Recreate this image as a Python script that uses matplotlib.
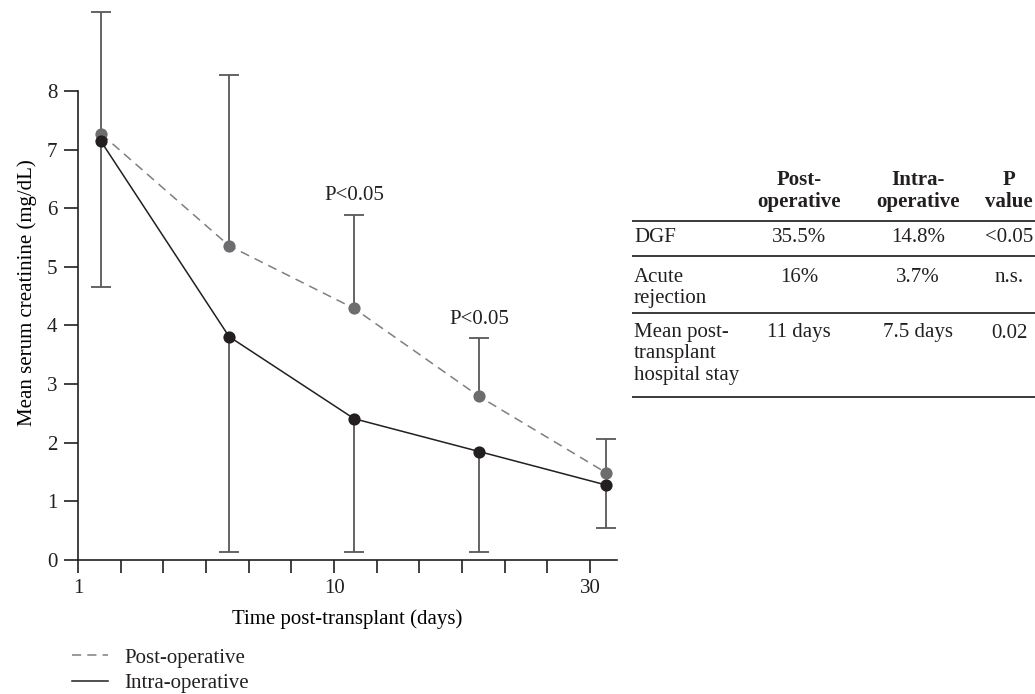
import matplotlib
matplotlib.use("Agg")
import matplotlib.pyplot as plt
from matplotlib.lines import Line2D

# x positions on the plotting grid (12 equal tick steps, labelled 1 / 10 / 30)
x_pos = [0.54, 3.54, 6.47, 9.40, 12.37]
tick_pos = list(range(13))
tick_labels = ["1", "", "", "", "", "", "10", "", "", "", "", "", "30"]

post_op = [7.27, 5.36, 4.29, 2.79, 1.49]
post_op_hi = [9.35, 8.27, 5.89, 3.78, 2.06]
intra_op = [7.14, 3.81, 2.41, 1.85, 1.28]
intra_op_lo = [4.66, 0.13, 0.14, 0.14, 0.55]

sig_points = [2, 3]
sig_text = "P<0.05"

col_headers = [["Post-", "operative"], ["Intra-", "operative"], ["P", "value"]]
row_labels = [["DGF"], ["Acute", "rejection"], ["Mean post-", "transplant", "hospital stay"]]
col_post = ["35.5%", "16%", "11 days"]
col_intra = ["14.8%", "3.7%", "7.5 days"]
col_p = ["<0.05", "n.s.", "0.02"]

W, H = 1035, 694
INK = "#231f20"
GREY = "#6d6d70"
BAR = "#58585a"
FS = 15

plt.rcParams["font.family"] = ["Liberation Serif", "DejaVu Serif"]
plt.rcParams["text.color"] = INK
plt.rcParams["axes.edgecolor"] = INK
plt.rcParams["xtick.color"] = INK
plt.rcParams["ytick.color"] = INK

fig = plt.figure(figsize=(W / 100, H / 100), dpi=100)


def fx(px):
    return px / W


def fy(py):
    return 1 - py / H


ax = fig.add_axes([fx(78), fy(560), fx(617) - fx(78), (560 - 3) / H])
ax.set_xlim(0, 12.63)
ax.set_ylim(0, 9.5)

# lines
l_post, = ax.plot(x_pos, post_op, color="#7f7f7f", lw=1.1, ls=(0, (6, 4)), zorder=2,
                  label="Post-operative")
l_intra, = ax.plot(x_pos, intra_op, color=INK, lw=1.1, zorder=2, label="Intra-operative")

# one-sided error bars
ax.vlines(x_pos, post_op, post_op_hi, color=BAR, lw=1.3, zorder=1)
ax.vlines(x_pos, intra_op_lo, intra_op, color=BAR, lw=1.3, zorder=1)
ax.plot(x_pos, post_op_hi, ls="none", marker="_", ms=15, mew=1.3, color=BAR, zorder=1)
ax.plot(x_pos, intra_op_lo, ls="none", marker="_", ms=15, mew=1.3, color=BAR, zorder=1)

# markers
ax.plot(x_pos, post_op, ls="none", marker="o", ms=8.8, color=GREY, mec="none", zorder=3)
ax.plot(x_pos, intra_op, ls="none", marker="o", ms=8.8, color=INK, mec="none", zorder=4)

for i in sig_points:
    ax.annotate(sig_text, (x_pos[i], post_op_hi[i]), xytext=(0, 7), textcoords="offset points",
                ha="center", va="bottom", fontsize=FS)

ax.spines["top"].set_visible(False)
ax.spines["right"].set_visible(False)
ax.spines["left"].set_bounds(0, 8)
ax.spines["left"].set_linewidth(1.2)
ax.spines["bottom"].set_linewidth(1.2)
ax.set_yticks(range(9))
ax.set_xticks(tick_pos)
ax.set_xticklabels(tick_labels)
ax.tick_params(axis="y", direction="out", length=10, width=1.2, pad=5, labelsize=FS)
ax.tick_params(axis="x", direction="out", length=9, width=1.2, pad=5, labelsize=FS)
ax.set_xlabel("Time post-transplant (days)", fontsize=FS, labelpad=8)
ax.set_ylabel("Mean serum creatinine (mg/dL)", fontsize=FS)
ax.yaxis.set_label_coords(-0.076, 0.48)

fig.legend(handles=[l_post, l_intra], loc="upper left", bbox_to_anchor=(fx(72), fy(648)),
           frameon=False, fontsize=FS, handlelength=1.75, handletextpad=0.75,
           labelspacing=0.28, borderpad=0, borderaxespad=0)

# table on the right
line_h = 21
col_x = [799, 918, 1009]
for cx, head in zip(col_x, col_headers):
    for k, t in enumerate(head):
        fig.text(fx(cx), fy(180 + k * 22), t, ha="center", va="center",
                 fontsize=FS, fontweight="bold")

row_y = [238, 277, 333]
for ry, lab, a, b, c in zip(row_y, row_labels, col_post, col_intra, col_p):
    for k, t in enumerate(lab):
        fig.text(fx(634), fy(ry + k * line_h), t, ha="left", va="center", fontsize=FS)
    for cx, t in zip(col_x, [a, b, c]):
        fig.text(fx(cx), fy(ry), t, ha="center", va="center", fontsize=FS)

for ly in [221, 256, 313, 397]:
    fig.add_artist(Line2D([fx(633), 1.0], [fy(ly), fy(ly)], color="#3a3a3a", lw=1.4))

fig.savefig("out.png", dpi=100)
